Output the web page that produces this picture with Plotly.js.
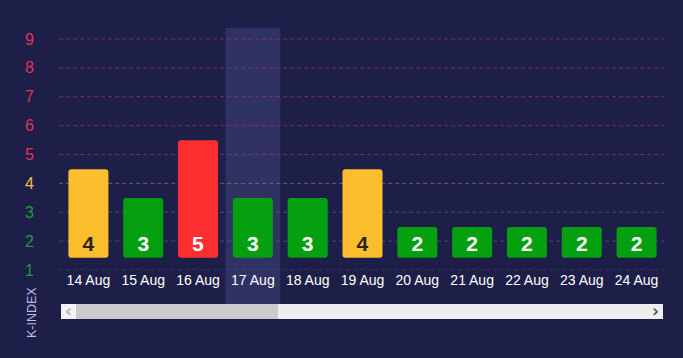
<!DOCTYPE html>
<html>
<head>
<meta charset="utf-8">
<script src="https://cdn.plot.ly/plotly-3.0.1.min.js"></script>
<style>
html,body{margin:0;padding:0;background:#1d1f48;}
#chart{width:683px;height:358px;}
</style>
</head>
<body>
<div id="chart"></div>
<script>
// ---- data ----
const dates = ["14 Aug","15 Aug","16 Aug","17 Aug","18 Aug","19 Aug","20 Aug","21 Aug","22 Aug","23 Aug","24 Aug"];
const kIndex = [4, 3, 5, 3, 3, 4, 2, 2, 2, 2, 2];
const yTicks = [1, 2, 3, 4, 5, 6, 7, 8, 9];
const highlightDate = "17 Aug";

// ---- styling helpers ----
function levelColor(k){ return k >= 5 ? "#fd2e30" : (k === 4 ? "#fcbe2c" : "#04a010"); }
function labelColor(k){ return k >= 5 ? "#e0335a" : (k === 4 ? "#f3b94a" : "#1f9a3c"); }
function gridColor(k){ return k >= 5 ? "rgba(190,60,110,0.55)" : (k === 4 ? "rgba(170,150,110,0.55)" : "rgba(120,120,170,0.45)"); }

const base = 1.42;
const barTops = kIndex.map(k => k + 0.49 - base);

const trace = {
  type: "bar",
  x: dates,
  y: barTops,
  base: base,
  width: 0.73,
  marker: { color: kIndex.map(levelColor), cornerradius: 3 },
  text: kIndex.map(String),
  textposition: "inside",
  insidetextanchor: "start",
  textangle: 0,
  insidetextfont: { family: "Liberation Sans, Arial, sans-serif", size: 21, color: kIndex.map(k => k === 4 ? "#2a2218" : "#ffffff"), weight: 700 },
  hoverinfo: "none",
  cliponaxis: false
};

const hIdx = dates.indexOf(highlightDate);

// scrollbar geometry (paper coords; plot bottom 270px, height 242px)
const py = p => (270 - p) / 242;
const px = p => (p - 61) / 603;

const shapes = [];
// highlight band
shapes.push({ type: "rect", xref: "x", yref: "paper", x0: hIdx - 0.5, x1: hIdx + 0.5, y0: py(304), y1: 1, fillcolor: "#2f3263", line: { width: 0 }, layer: "below" });
// grid lines
yTicks.forEach(t => shapes.push({ type: "line", xref: "paper", yref: "y", x0: -0.003, x1: 1, y0: t, y1: t, line: { color: gridColor(t), width: 1, dash: "4px,3px" }, layer: "below" }));
// scrollbar
shapes.push({ type: "rect", xref: "paper", yref: "paper", x0: px(61), x1: px(663), y0: py(319), y1: py(304), fillcolor: "#eeeeee", line: { width: 0 } });
shapes.push({ type: "rect", xref: "paper", yref: "paper", x0: px(61), x1: px(76), y0: py(319), y1: py(304), fillcolor: "#f3f3f3", line: { width: 0 } });
shapes.push({ type: "rect", xref: "paper", yref: "paper", x0: px(76), x1: px(278), y0: py(319), y1: py(304), fillcolor: "#cbcbcb", line: { width: 0 } });

const annotations = [
  { text: "K-INDEX", xref: "paper", yref: "paper", x: px(32), y: py(312), xanchor: "center", yanchor: "middle", textangle: -90, showarrow: false, font: { family: "Liberation Sans, Arial, sans-serif", size: 12.5, color: "#b9bbe6" } },
  { text: "‹", xref: "paper", yref: "paper", x: px(68.5), y: py(311), xanchor: "center", yanchor: "middle", showarrow: false, font: { family: "DejaVu Sans, sans-serif", size: 17, color: "#b5b5b5", weight: 700 } },
  { text: "›", xref: "paper", yref: "paper", x: px(655.5), y: py(311), xanchor: "center", yanchor: "middle", showarrow: false, font: { family: "DejaVu Sans, sans-serif", size: 17, color: "#555555", weight: 700 } }
];

const layout = {
  width: 683, height: 358,
  margin: { l: 61, r: 19, t: 28, b: 88 },
  paper_bgcolor: "#1d1f48",
  plot_bgcolor: "rgba(0,0,0,0)",
  showlegend: false,
  xaxis: {
    type: "category",
    showgrid: false, zeroline: false, showline: false, ticks: "",
    tickfont: { family: "Liberation Sans, Arial, sans-serif", size: 14, color: "#ffffff" },
    fixedrange: true
  },
  yaxis: {
    range: [1, 9.38],
    showgrid: false, zeroline: false, showline: false, ticks: "",
    tickvals: yTicks,
    ticktext: yTicks.map(t => '<span style="color:' + labelColor(t) + '">' + t + '</span>'),
    tickfont: { family: "Liberation Sans, Arial, sans-serif", size: 16 },
    ticklabelstandoff: 26,
    fixedrange: true
  },
  shapes: shapes,
  annotations: annotations
};

Plotly.newPlot("chart", [trace], layout, { displayModeBar: false, staticPlot: true });
</script>
</body>
</html>
